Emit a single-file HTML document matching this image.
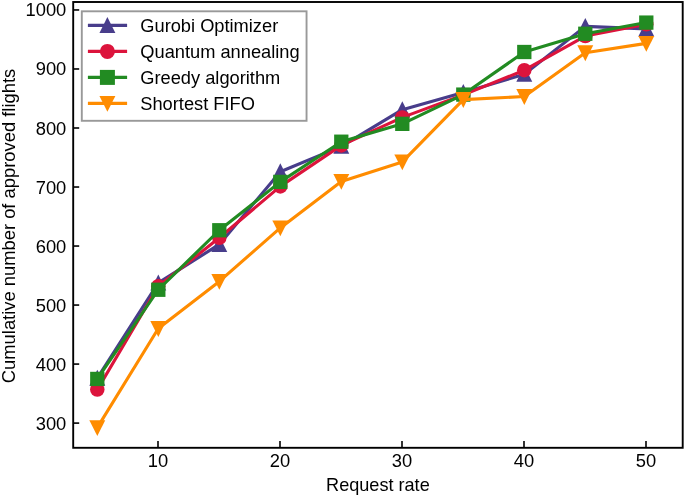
<!DOCTYPE html>
<html><head><meta charset="utf-8"><title>Chart</title>
<style>
html,body{margin:0;padding:0;background:#fff;}
body{width:685px;height:495px;overflow:hidden;}
svg{display:block;}
text{font-family:"Liberation Sans",sans-serif;font-size:18.1px;fill:#000;}
.tx{filter:grayscale(1);}
</style></head><body>
<svg width="685" height="495" viewBox="0 0 685 495">
<rect x="0" y="0" width="685" height="495" fill="#fff"/>

<clipPath id="ax"><rect x="73.2" y="2.0" width="609.5" height="445.8"/></clipPath>
<g stroke="#000" stroke-width="1.6">
<line x1="158.00" y1="447.8" x2="158.00" y2="440.90000000000003"/>
<line x1="280.00" y1="447.8" x2="280.00" y2="440.90000000000003"/>
<line x1="402.00" y1="447.8" x2="402.00" y2="440.90000000000003"/>
<line x1="524.00" y1="447.8" x2="524.00" y2="440.90000000000003"/>
<line x1="646.00" y1="447.8" x2="646.00" y2="440.90000000000003"/>
<line x1="73.2" y1="423.10" x2="79.2" y2="423.10"/>
<line x1="73.2" y1="364.08" x2="79.2" y2="364.08"/>
<line x1="73.2" y1="305.06" x2="79.2" y2="305.06"/>
<line x1="73.2" y1="246.04" x2="79.2" y2="246.04"/>
<line x1="73.2" y1="187.02" x2="79.2" y2="187.02"/>
<line x1="73.2" y1="128.00" x2="79.2" y2="128.00"/>
<line x1="73.2" y1="68.98" x2="79.2" y2="68.98"/>
<line x1="73.2" y1="9.96" x2="79.2" y2="9.96"/>
</g>
<g clip-path="url(#ax)">
<polyline points="97.30,378.20 158.30,282.90 219.30,244.40 280.30,171.75 341.30,146.35 402.30,109.70 463.30,92.50 524.30,74.30 585.30,26.35 646.30,28.90" fill="none" stroke="#483d8b" stroke-width="3.1" stroke-linejoin="round" stroke-linecap="butt"/>
<polygon points="97.30,369.77 89.34,385.70 105.26,385.70" fill="#483d8b"/>
<polygon points="158.30,274.47 150.34,290.40 166.26,290.40" fill="#483d8b"/>
<polygon points="219.30,235.97 211.34,251.90 227.26,251.90" fill="#483d8b"/>
<polygon points="280.30,163.32 272.34,179.25 288.26,179.25" fill="#483d8b"/>
<polygon points="341.30,137.92 333.34,153.85 349.26,153.85" fill="#483d8b"/>
<polygon points="402.30,101.27 394.34,117.20 410.26,117.20" fill="#483d8b"/>
<polygon points="463.30,84.07 455.34,100.00 471.26,100.00" fill="#483d8b"/>
<polygon points="524.30,65.87 516.34,81.80 532.26,81.80" fill="#483d8b"/>
<polygon points="585.30,17.92 577.34,33.85 593.26,33.85" fill="#483d8b"/>
<polygon points="646.30,20.47 638.34,36.40 654.26,36.40" fill="#483d8b"/>

<polyline points="97.30,389.60 158.30,286.20 219.30,237.80 280.30,186.40 341.30,145.40 402.30,117.40 463.30,94.90 524.30,70.20 585.30,36.05 646.30,24.35" fill="none" stroke="#dc143c" stroke-width="3.1" stroke-linejoin="round" stroke-linecap="butt"/>
<circle cx="97.30" cy="389.60" r="7.25" fill="#dc143c"/>
<circle cx="158.30" cy="286.20" r="7.25" fill="#dc143c"/>
<circle cx="219.30" cy="237.80" r="7.25" fill="#dc143c"/>
<circle cx="280.30" cy="186.40" r="7.25" fill="#dc143c"/>
<circle cx="341.30" cy="145.40" r="7.25" fill="#dc143c"/>
<circle cx="402.30" cy="117.40" r="7.25" fill="#dc143c"/>
<circle cx="463.30" cy="94.90" r="7.25" fill="#dc143c"/>
<circle cx="524.30" cy="70.20" r="7.25" fill="#dc143c"/>
<circle cx="585.30" cy="36.05" r="7.25" fill="#dc143c"/>
<circle cx="646.30" cy="24.35" r="7.25" fill="#dc143c"/>

<polyline points="97.30,378.95 158.30,289.75 219.30,230.25 280.30,181.90 341.30,141.70 402.30,123.85 463.30,94.60 524.30,52.00 585.30,33.75 646.30,22.60" fill="none" stroke="#228b22" stroke-width="3.1" stroke-linejoin="round" stroke-linecap="butt"/>
<rect x="90.15" y="371.80" width="14.30" height="14.30" fill="#228b22"/>
<rect x="151.15" y="282.60" width="14.30" height="14.30" fill="#228b22"/>
<rect x="212.15" y="223.10" width="14.30" height="14.30" fill="#228b22"/>
<rect x="273.15" y="174.75" width="14.30" height="14.30" fill="#228b22"/>
<rect x="334.15" y="134.55" width="14.30" height="14.30" fill="#228b22"/>
<rect x="395.15" y="116.70" width="14.30" height="14.30" fill="#228b22"/>
<rect x="456.15" y="87.45" width="14.30" height="14.30" fill="#228b22"/>
<rect x="517.15" y="44.85" width="14.30" height="14.30" fill="#228b22"/>
<rect x="578.15" y="26.60" width="14.30" height="14.30" fill="#228b22"/>
<rect x="639.15" y="15.45" width="14.30" height="14.30" fill="#228b22"/>

<polyline points="97.30,427.65 158.30,328.50 219.30,281.40 280.30,227.90 341.30,181.40 402.30,161.90 463.30,99.60 524.30,96.50 585.30,52.75 646.30,43.40" fill="none" stroke="#ff8c00" stroke-width="3.1" stroke-linejoin="round" stroke-linecap="butt"/>
<polygon points="97.30,436.08 89.34,420.15 105.26,420.15" fill="#ff8c00"/>
<polygon points="158.30,336.93 150.34,321.00 166.26,321.00" fill="#ff8c00"/>
<polygon points="219.30,289.83 211.34,273.90 227.26,273.90" fill="#ff8c00"/>
<polygon points="280.30,236.33 272.34,220.40 288.26,220.40" fill="#ff8c00"/>
<polygon points="341.30,189.83 333.34,173.90 349.26,173.90" fill="#ff8c00"/>
<polygon points="402.30,170.33 394.34,154.40 410.26,154.40" fill="#ff8c00"/>
<polygon points="463.30,108.03 455.34,92.10 471.26,92.10" fill="#ff8c00"/>
<polygon points="524.30,104.93 516.34,89.00 532.26,89.00" fill="#ff8c00"/>
<polygon points="585.30,61.18 577.34,45.25 593.26,45.25" fill="#ff8c00"/>
<polygon points="646.30,51.83 638.34,35.90 654.26,35.90" fill="#ff8c00"/>

</g>
<rect x="73.2" y="2.0" width="609.5" height="445.8" fill="none" stroke="#000" stroke-width="1.9"/>
<g class="tx">
<text x="158.00" y="466.6" text-anchor="middle" style="font-size:18.35px">10</text>
<text x="280.00" y="466.6" text-anchor="middle" style="font-size:18.35px">20</text>
<text x="402.00" y="466.6" text-anchor="middle" style="font-size:18.35px">30</text>
<text x="524.00" y="466.6" text-anchor="middle" style="font-size:18.35px">40</text>
<text x="646.00" y="466.6" text-anchor="middle" style="font-size:18.35px">50</text>
<text x="66.3" y="429.60" text-anchor="end" style="font-size:18.35px">300</text>
<text x="66.3" y="370.58" text-anchor="end" style="font-size:18.35px">400</text>
<text x="66.3" y="311.56" text-anchor="end" style="font-size:18.35px">500</text>
<text x="66.3" y="252.54" text-anchor="end" style="font-size:18.35px">600</text>
<text x="66.3" y="193.52" text-anchor="end" style="font-size:18.35px">700</text>
<text x="66.3" y="134.50" text-anchor="end" style="font-size:18.35px">800</text>
<text x="66.3" y="75.48" text-anchor="end" style="font-size:18.35px">900</text>
<text x="66.3" y="16.46" text-anchor="end" style="font-size:18.35px">1000</text>
<text x="377.9" y="491" text-anchor="middle">Request rate</text>
<text transform="translate(14.8,226) rotate(-90)" text-anchor="middle" style="font-size:18.36px">Cumulative number of approved flights</text>
</g>
<rect x="81.8" y="11.3" width="224.75" height="109.5" fill="#fff" stroke="#999999" stroke-width="1.9"/>
<line x1="87.9" y1="25.4" x2="127.1" y2="25.4" stroke="#483d8b" stroke-width="3.1"/>
<polygon points="107.40,16.97 99.44,32.90 115.36,32.90" fill="#483d8b"/>
<line x1="87.9" y1="51.4" x2="127.1" y2="51.4" stroke="#dc143c" stroke-width="3.1"/>
<circle cx="107.40" cy="51.40" r="7.50" fill="#dc143c"/>
<line x1="87.9" y1="77.4" x2="127.1" y2="77.4" stroke="#228b22" stroke-width="3.1"/>
<rect x="99.90" y="69.90" width="15.00" height="15.00" fill="#228b22"/>
<line x1="87.9" y1="103.4" x2="127.1" y2="103.4" stroke="#ff8c00" stroke-width="3.1"/>
<polygon points="107.40,111.83 99.44,95.90 115.36,95.90" fill="#ff8c00"/>
<g class="tx"><text x="140.3" y="31.80" style="font-size:18.25px">Gurobi Optimizer</text>
<text x="140.3" y="57.80" style="font-size:18.25px">Quantum annealing</text>
<text x="140.3" y="83.80" style="font-size:18.25px">Greedy algorithm</text>
<text x="140.3" y="109.80" style="font-size:18.25px">Shortest FIFO</text></g>
</svg></body></html>
